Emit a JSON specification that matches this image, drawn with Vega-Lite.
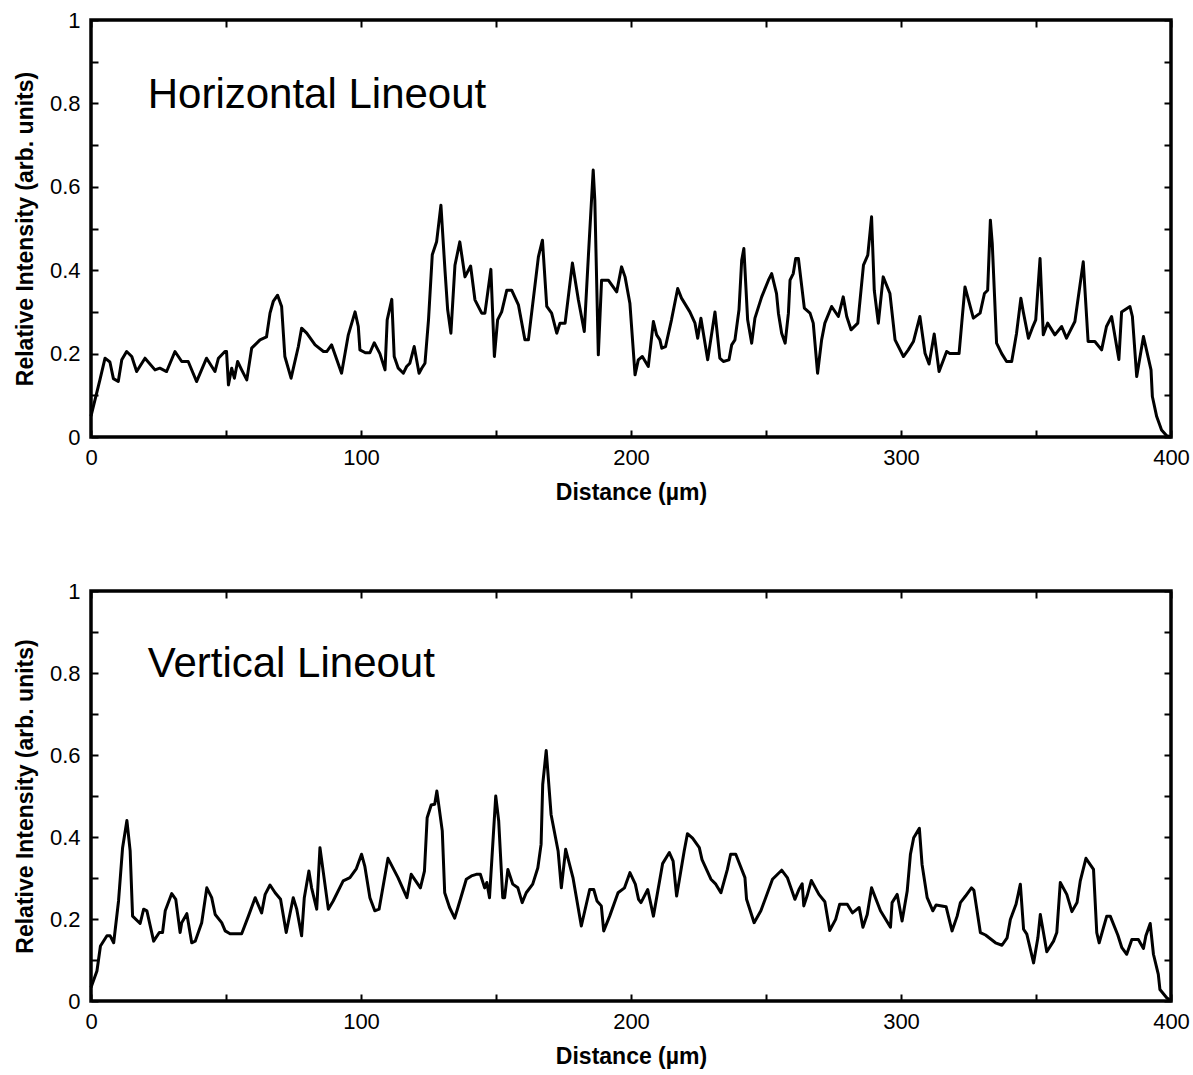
{
  "$schema": "https://vega.github.io/schema/vega-lite/v6.json",
  "background": "white",
  "padding": {"left": 12, "top": 7, "right": 16, "bottom": 5},
  "spacing": 72,
  "config": {
    "font": "Liberation Sans",
    "view": {"stroke": "black", "strokeWidth": 3.5},
    "axis": {
      "domain": false, "grid": false, "tickColor": "black", "tickWidth": 2, "tickSize": -7,
      "labelColor": "black", "labelFontSize": 22, "labelFont": "Liberation Sans", "labelFlush": false,
      "titleColor": "black", "titleFontSize": 23, "titleFontWeight": "bold", "titleFont": "Liberation Sans"
    }
  },
  "datasets": {
    "h": [
      {"d":0,"v":0.05},{"d":3.3,"v":0.137},{"d":5.2,"v":0.189},{"d":7,"v":0.18},{"d":8.3,"v":0.14},{"d":10.1,"v":0.133},{"d":11.4,"v":0.185},{"d":13.2,"v":0.205},{"d":15.1,"v":0.193},{"d":16.9,"v":0.157},{"d":20,"v":0.189},{"d":23.7,"v":0.161},{"d":25.5,"v":0.165},{"d":28,"v":0.157},{"d":31.1,"v":0.205},{"d":33.6,"v":0.181},{"d":36,"v":0.181},{"d":39.1,"v":0.133},{"d":42.8,"v":0.189},{"d":45.9,"v":0.157},{"d":47.2,"v":0.189},{"d":49.6,"v":0.205},{"d":50.2,"v":0.205},{"d":50.9,"v":0.125},{"d":52.1,"v":0.165},{"d":53.1,"v":0.141},{"d":54.3,"v":0.181},{"d":55.8,"v":0.161},{"d":57.7,"v":0.137},{"d":59.5,"v":0.213},{"d":62.6,"v":0.233},{"d":65,"v":0.24},{"d":66.3,"v":0.297},{"d":67.5,"v":0.325},{"d":69.1,"v":0.34},{"d":70.6,"v":0.313},{"d":71.8,"v":0.193},{"d":74.1,"v":0.141},{"d":76.8,"v":0.217},{"d":78,"v":0.261},{"d":79.9,"v":0.249},{"d":83,"v":0.221},{"d":86.1,"v":0.205},{"d":87.3,"v":0.205},{"d":89.1,"v":0.221},{"d":92.8,"v":0.153},{"d":95.3,"v":0.245},{"d":97.8,"v":0.3},{"d":99,"v":0.265},{"d":99.6,"v":0.209},{"d":101.6,"v":0.202},{"d":103.3,"v":0.202},{"d":104.9,"v":0.226},{"d":107,"v":0.2},{"d":108.9,"v":0.161},{"d":109.7,"v":0.281},{"d":111.4,"v":0.33},{"d":112.3,"v":0.193},{"d":113.8,"v":0.165},{"d":115.7,"v":0.153},{"d":116.9,"v":0.169},{"d":118.1,"v":0.177},{"d":119.7,"v":0.217},{"d":121.5,"v":0.153},{"d":122.5,"v":0.165},{"d":123.7,"v":0.177},{"d":125,"v":0.281},{"d":126.4,"v":0.437},{"d":128,"v":0.468},{"d":129.6,"v":0.556},{"d":131.1,"v":0.4},{"d":132.1,"v":0.305},{"d":133.3,"v":0.249},{"d":134.8,"v":0.412},{"d":136.6,"v":0.468},{"d":138.5,"v":0.384},{"d":140.6,"v":0.41},{"d":142.2,"v":0.329},{"d":144.7,"v":0.297},{"d":145.9,"v":0.297},{"d":148.1,"v":0.402},{"d":149.4,"v":0.193},{"d":150.6,"v":0.281},{"d":152.1,"v":0.3},{"d":154,"v":0.352},{"d":155.8,"v":0.352},{"d":158.3,"v":0.317},{"d":160.7,"v":0.233},{"d":162,"v":0.233},{"d":165.7,"v":0.432},{"d":167.2,"v":0.472},{"d":168.8,"v":0.313},{"d":170.6,"v":0.297},{"d":172.5,"v":0.249},{"d":173.7,"v":0.273},{"d":175.6,"v":0.273},{"d":178.3,"v":0.417},{"d":180.5,"v":0.329},{"d":182.7,"v":0.253},{"d":184.2,"v":0.432},{"d":186,"v":0.64},{"d":186.6,"v":0.568},{"d":187.9,"v":0.197},{"d":189.1,"v":0.376},{"d":191.6,"v":0.376},{"d":194.7,"v":0.348},{"d":196.5,"v":0.408},{"d":197.8,"v":0.384},{"d":199.6,"v":0.32},{"d":201.5,"v":0.149},{"d":202.7,"v":0.185},{"d":204.2,"v":0.193},{"d":206.4,"v":0.169},{"d":208.3,"v":0.277},{"d":209.5,"v":0.245},{"d":210.7,"v":0.233},{"d":211.4,"v":0.213},{"d":212.8,"v":0.217},{"d":215,"v":0.281},{"d":217.3,"v":0.356},{"d":218.7,"v":0.333},{"d":221.8,"v":0.3},{"d":223.7,"v":0.273},{"d":224.7,"v":0.237},{"d":225.9,"v":0.285},{"d":228.4,"v":0.185},{"d":231.1,"v":0.3},{"d":232.9,"v":0.189},{"d":234.2,"v":0.181},{"d":236.3,"v":0.185},{"d":237.3,"v":0.221},{"d":238.5,"v":0.233},{"d":240,"v":0.305},{"d":241,"v":0.424},{"d":241.8,"v":0.452},{"d":243.2,"v":0.281},{"d":244.7,"v":0.225},{"d":245.9,"v":0.285},{"d":248.4,"v":0.336},{"d":250.9,"v":0.376},{"d":252.1,"v":0.392},{"d":253.9,"v":0.344},{"d":254.6,"v":0.297},{"d":255.8,"v":0.249},{"d":257.1,"v":0.225},{"d":258.3,"v":0.297},{"d":258.9,"v":0.376},{"d":260.1,"v":0.392},{"d":261,"v":0.428},{"d":262,"v":0.428},{"d":264.2,"v":0.309},{"d":266.3,"v":0.297},{"d":267.5,"v":0.273},{"d":269.1,"v":0.153},{"d":270.6,"v":0.233},{"d":271.8,"v":0.273},{"d":274.3,"v":0.313},{"d":276.8,"v":0.289},{"d":278.6,"v":0.336},{"d":279.9,"v":0.289},{"d":281.5,"v":0.257},{"d":284,"v":0.273},{"d":286.1,"v":0.412},{"d":287.7,"v":0.436},{"d":289.1,"v":0.528},{"d":290.1,"v":0.352},{"d":291.6,"v":0.273},{"d":293.4,"v":0.384},{"d":295.9,"v":0.344},{"d":297.8,"v":0.233},{"d":300.9,"v":0.193},{"d":302.7,"v":0.209},{"d":304.6,"v":0.229},{"d":307,"v":0.289},{"d":308.9,"v":0.201},{"d":310.4,"v":0.175},{"d":312.3,"v":0.247},{"d":314.1,"v":0.157},{"d":316.9,"v":0.205},{"d":318.1,"v":0.2},{"d":321.5,"v":0.2},{"d":322.5,"v":0.273},{"d":323.7,"v":0.36},{"d":326.8,"v":0.285},{"d":329.3,"v":0.297},{"d":330.9,"v":0.344},{"d":332.1,"v":0.352},{"d":333.1,"v":0.52},{"d":333.8,"v":0.464},{"d":335.4,"v":0.225},{"d":337.3,"v":0.2},{"d":339.1,"v":0.181},{"d":341,"v":0.181},{"d":342.8,"v":0.249},{"d":344.4,"v":0.333},{"d":345.3,"v":0.3},{"d":347.2,"v":0.237},{"d":348.6,"v":0.261},{"d":349.9,"v":0.281},{"d":351.5,"v":0.428},{"d":352.7,"v":0.245},{"d":354.3,"v":0.273},{"d":357,"v":0.245},{"d":359.5,"v":0.265},{"d":361.3,"v":0.237},{"d":364.4,"v":0.277},{"d":367.5,"v":0.42},{"d":369.3,"v":0.229},{"d":371.8,"v":0.229},{"d":374.3,"v":0.209},{"d":376.1,"v":0.265},{"d":378,"v":0.289},{"d":380.7,"v":0.186},{"d":381.7,"v":0.3},{"d":384.8,"v":0.313},{"d":385.7,"v":0.289},{"d":387.3,"v":0.145},{"d":389.8,"v":0.241},{"d":392.6,"v":0.161},{"d":393.1,"v":0.097},{"d":394.7,"v":0.049},{"d":396.5,"v":0.017},{"d":398.4,"v":0.003},{"d":400,"v":0}
    ],
    "v": [
      {"d":0,"v":0.033},{"d":2.2,"v":0.073},{"d":3.5,"v":0.134},{"d":5.9,"v":0.159},{"d":7.1,"v":0.159},{"d":8.4,"v":0.142},{"d":10.2,"v":0.244},{"d":11.7,"v":0.374},{"d":13.3,"v":0.44},{"d":14.5,"v":0.366},{"d":15.4,"v":0.207},{"d":18.2,"v":0.189},{"d":19.5,"v":0.224},{"d":20.7,"v":0.22},{"d":23.2,"v":0.146},{"d":25.3,"v":0.167},{"d":26.5,"v":0.167},{"d":27.5,"v":0.22},{"d":29.9,"v":0.262},{"d":31.4,"v":0.248},{"d":33,"v":0.167},{"d":33.6,"v":0.191},{"d":35.5,"v":0.213},{"d":37.3,"v":0.142},{"d":38.6,"v":0.146},{"d":41,"v":0.191},{"d":42.9,"v":0.276},{"d":44.7,"v":0.252},{"d":46,"v":0.211},{"d":48.4,"v":0.191},{"d":49.7,"v":0.171},{"d":51.5,"v":0.164},{"d":55.8,"v":0.164},{"d":58.3,"v":0.207},{"d":60.8,"v":0.252},{"d":63.2,"v":0.215},{"d":64.5,"v":0.26},{"d":66.3,"v":0.283},{"d":68.2,"v":0.264},{"d":70.2,"v":0.248},{"d":72.3,"v":0.167},{"d":74.9,"v":0.252},{"d":76.2,"v":0.224},{"d":78,"v":0.159},{"d":79,"v":0.252},{"d":80.7,"v":0.317},{"d":81.7,"v":0.276},{"d":83.6,"v":0.224},{"d":84.8,"v":0.374},{"d":87.9,"v":0.224},{"d":89.7,"v":0.244},{"d":93.4,"v":0.293},{"d":95.9,"v":0.301},{"d":98.3,"v":0.323},{"d":100.2,"v":0.358},{"d":101.4,"v":0.329},{"d":103.3,"v":0.252},{"d":105.1,"v":0.22},{"d":106.7,"v":0.224},{"d":110,"v":0.348},{"d":113.7,"v":0.301},{"d":117,"v":0.252},{"d":118.6,"v":0.309},{"d":122,"v":0.276},{"d":123.5,"v":0.317},{"d":124.5,"v":0.447},{"d":126,"v":0.478},{"d":127.3,"v":0.48},{"d":128.1,"v":0.512},{"d":130.1,"v":0.415},{"d":131,"v":0.264},{"d":132.8,"v":0.228},{"d":134.7,"v":0.202},{"d":135.9,"v":0.228},{"d":139,"v":0.297},{"d":140.9,"v":0.305},{"d":142.7,"v":0.309},{"d":144.2,"v":0.309},{"d":145.8,"v":0.276},{"d":146.6,"v":0.289},{"d":147.6,"v":0.252},{"d":149.9,"v":0.5},{"d":151,"v":0.439},{"d":152.5,"v":0.252},{"d":153.2,"v":0.252},{"d":154.4,"v":0.321},{"d":156.2,"v":0.285},{"d":158.1,"v":0.276},{"d":159.7,"v":0.24},{"d":161.2,"v":0.264},{"d":163.6,"v":0.285},{"d":165.5,"v":0.325},{"d":166.7,"v":0.382},{"d":167.3,"v":0.528},{"d":168.6,"v":0.611},{"d":170.4,"v":0.455},{"d":173,"v":0.366},{"d":174.2,"v":0.276},{"d":175.8,"v":0.37},{"d":178.5,"v":0.301},{"d":181.6,"v":0.183},{"d":184.7,"v":0.272},{"d":186.2,"v":0.272},{"d":187.4,"v":0.244},{"d":189,"v":0.232},{"d":189.9,"v":0.171},{"d":192.1,"v":0.207},{"d":195.2,"v":0.264},{"d":197.6,"v":0.276},{"d":199.6,"v":0.313},{"d":201.6,"v":0.285},{"d":202.8,"v":0.248},{"d":203.7,"v":0.24},{"d":206.2,"v":0.272},{"d":208.3,"v":0.207},{"d":211.7,"v":0.335},{"d":214.2,"v":0.362},{"d":215.6,"v":0.341},{"d":216.9,"v":0.256},{"d":219.7,"v":0.366},{"d":220.9,"v":0.408},{"d":222.8,"v":0.397},{"d":225.3,"v":0.374},{"d":226.3,"v":0.345},{"d":229.6,"v":0.297},{"d":231.4,"v":0.285},{"d":233.3,"v":0.264},{"d":235.7,"v":0.321},{"d":236.9,"v":0.358},{"d":238.8,"v":0.358},{"d":242.2,"v":0.301},{"d":242.8,"v":0.248},{"d":245.6,"v":0.191},{"d":248.1,"v":0.22},{"d":252.4,"v":0.297},{"d":255.8,"v":0.319},{"d":257.9,"v":0.301},{"d":260.7,"v":0.248},{"d":262.2,"v":0.272},{"d":263.4,"v":0.286},{"d":264,"v":0.232},{"d":265.2,"v":0.256},{"d":266.8,"v":0.294},{"d":269.6,"v":0.26},{"d":271.8,"v":0.242},{"d":273.6,"v":0.172},{"d":275.8,"v":0.199},{"d":277.3,"v":0.236},{"d":280.1,"v":0.236},{"d":282,"v":0.215},{"d":284.5,"v":0.228},{"d":285.9,"v":0.18},{"d":287.5,"v":0.211},{"d":289.1,"v":0.276},{"d":292.4,"v":0.22},{"d":296.1,"v":0.18},{"d":296.7,"v":0.24},{"d":298.6,"v":0.26},{"d":300.4,"v":0.195},{"d":302.3,"v":0.268},{"d":303.5,"v":0.358},{"d":304.7,"v":0.398},{"d":306.8,"v":0.421},{"d":307.8,"v":0.333},{"d":309.7,"v":0.252},{"d":311.8,"v":0.22},{"d":313,"v":0.234},{"d":316.7,"v":0.23},{"d":318.9,"v":0.171},{"d":320.8,"v":0.207},{"d":322,"v":0.24},{"d":323.9,"v":0.256},{"d":326.1,"v":0.276},{"d":327,"v":0.27},{"d":329.4,"v":0.167},{"d":331.3,"v":0.161},{"d":335,"v":0.142},{"d":337.4,"v":0.136},{"d":339.3,"v":0.154},{"d":340.5,"v":0.199},{"d":342.6,"v":0.236},{"d":344.2,"v":0.285},{"d":345.4,"v":0.175},{"d":346.6,"v":0.163},{"d":349.1,"v":0.093},{"d":350.7,"v":0.154},{"d":351.6,"v":0.211},{"d":354,"v":0.12},{"d":356.5,"v":0.146},{"d":357.7,"v":0.167},{"d":359,"v":0.289},{"d":361.4,"v":0.26},{"d":363.3,"v":0.218},{"d":365.2,"v":0.24},{"d":366.4,"v":0.293},{"d":368.5,"v":0.348},{"d":371.3,"v":0.321},{"d":372.5,"v":0.167},{"d":373.4,"v":0.142},{"d":376.2,"v":0.207},{"d":377.5,"v":0.207},{"d":380.3,"v":0.161},{"d":381.8,"v":0.13},{"d":383.6,"v":0.114},{"d":385.5,"v":0.15},{"d":387.9,"v":0.15},{"d":389.8,"v":0.128},{"d":390.7,"v":0.159},{"d":392.3,"v":0.189},{"d":393.5,"v":0.114},{"d":395.3,"v":0.065},{"d":395.9,"v":0.028},{"d":398.4,"v":0.008},{"d":400,"v":0}
    ]
  },
  "vconcat": [
    {
      "width": 1080, "height": 417,
      "layer": [
        {
          "data": {"name": "h"},
          "mark": {"type": "line", "color": "black", "strokeWidth": 3, "strokeJoin": "round"},
          "encoding": {
            "x": {"field": "d", "type": "quantitative", "scale": {"domain": [0, 400], "nice": false},
              "axis": {"orient": "bottom", "values": [0,50,100,150,200,250,300,350,400], "labelExpr": "datum.value % 100 === 0 ? datum.label : ''", "labelPadding": 17, "title": "Distance (µm)", "titlePadding": 13}},
            "y": {"field": "v", "type": "quantitative", "scale": {"domain": [0, 1], "nice": false},
              "axis": {"orient": "left", "values": [0,0.1,0.2,0.3,0.4,0.5,0.6,0.7,0.8,0.9,1], "labelExpr": "round(datum.value*10) % 2 === 0 ? format(datum.value, '~g') : ''", "labelPadding": 18, "title": "Relative Intensity (arb. units)", "titlePadding": 12}}
          }
        },
        {
          "data": {"values": [{"d": 21, "v": 0.82, "label": "Horizontal Lineout"}]},
          "mark": {"type": "text", "align": "left", "baseline": "middle", "fontSize": 42, "font": "Liberation Sans", "color": "black"},
          "encoding": {
            "x": {"field": "d", "type": "quantitative", "axis": {"orient": "top", "values": [0,50,100,150,200,250,300,350,400], "labels": false, "title": null}},
            "y": {"field": "v", "type": "quantitative", "axis": {"orient": "right", "values": [0,0.1,0.2,0.3,0.4,0.5,0.6,0.7,0.8,0.9,1], "labels": false, "title": null}},
            "text": {"field": "label"}
          }
        }
      ],
      "resolve": {"axis": {"x": "independent", "y": "independent"}}
    },
    {
      "width": 1080, "height": 410,
      "layer": [
        {
          "data": {"name": "v"},
          "mark": {"type": "line", "color": "black", "strokeWidth": 3, "strokeJoin": "round"},
          "encoding": {
            "x": {"field": "d", "type": "quantitative", "scale": {"domain": [0, 400], "nice": false},
              "axis": {"orient": "bottom", "values": [0,50,100,150,200,250,300,350,400], "labelExpr": "datum.value % 100 === 0 ? datum.label : ''", "labelPadding": 17, "title": "Distance (µm)", "titlePadding": 13}},
            "y": {"field": "v", "type": "quantitative", "scale": {"domain": [0, 1], "nice": false},
              "axis": {"orient": "left", "values": [0,0.1,0.2,0.3,0.4,0.5,0.6,0.7,0.8,0.9,1], "labelExpr": "round(datum.value*10) % 2 === 0 ? format(datum.value, '~g') : ''", "labelPadding": 18, "title": "Relative Intensity (arb. units)", "titlePadding": 12}}
          }
        },
        {
          "data": {"values": [{"d": 21, "v": 0.822, "label": "Vertical Lineout"}]},
          "mark": {"type": "text", "align": "left", "baseline": "middle", "fontSize": 42, "font": "Liberation Sans", "color": "black"},
          "encoding": {
            "x": {"field": "d", "type": "quantitative", "axis": {"orient": "top", "values": [0,50,100,150,200,250,300,350,400], "labels": false, "title": null}},
            "y": {"field": "v", "type": "quantitative", "axis": {"orient": "right", "values": [0,0.1,0.2,0.3,0.4,0.5,0.6,0.7,0.8,0.9,1], "labels": false, "title": null}},
            "text": {"field": "label"}
          }
        }
      ],
      "resolve": {"axis": {"x": "independent", "y": "independent"}}
    }
  ]
}
